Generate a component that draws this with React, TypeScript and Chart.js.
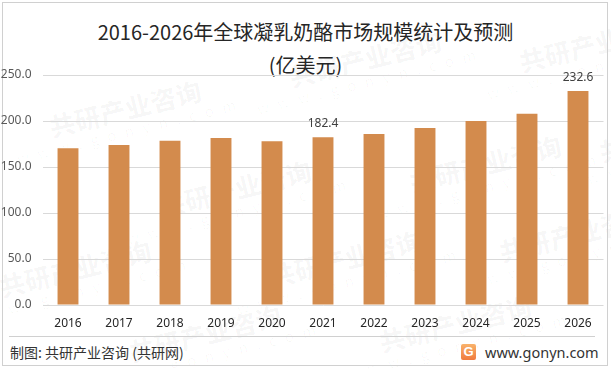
import React, { useEffect, useRef } from "react";
import { Chart, registerables } from "chart.js";

Chart.register(...registerables);

const categories = ["2016", "2017", "2018", "2019", "2020", "2021", "2022", "2023", "2024", "2025", "2026"];
const marketSize = [170.5, 174, 178.5, 181.5, 178, 182.4, 186, 192.5, 200, 208, 232.6];
const labelledIndexes = [5, 10];
const yTicks = [0, 50, 100, 150, 200, 250];
const titleLines = ["2016-2026年全球凝乳奶酪市场规模统计及预测", "(亿美元)"];
const footerLeft = "制图: 共研产业咨询 (共研网)";
const footerRight = "www.gonyn.com";

const BAR_COLOR = "#D38B4D";

const valueLabelPlugin = {
  id: "valueLabels",
  afterDatasetsDraw(chart: any) {
    const ctx = chart.ctx;
    const meta = chart.getDatasetMeta(0);
    ctx.save();
    ctx.font = '12px "Noto Sans", sans-serif';
    ctx.fillStyle = "#404040";
    ctx.textAlign = "center";
    ctx.textBaseline = "middle";
    labelledIndexes.forEach((i) => {
      const bar = meta.data[i];
      if (!bar) return;
      ctx.fillText(marketSize[i].toFixed(1), bar.x, bar.y - 13.5);
    });
    ctx.restore();
  },
};

const watermarks = [
  { x: 10, y: 95 },
  { x: 250, y: 45 },
  { x: 480, y: 30 },
  { x: 120, y: 175 },
  { x: 370, y: 150 },
  { x: 560, y: 120 },
  { x: -40, y: 255 },
  { x: 230, y: 245 },
  { x: 460, y: 220 },
  { x: 90, y: 320 },
  { x: 340, y: 310 },
];

export default function App() {
  const canvasRef = useRef<HTMLCanvasElement | null>(null);

  useEffect(() => {
    document.body.style.margin = "0";
    const canvas = canvasRef.current;
    if (!canvas) return;
    const chart = new Chart(canvas, {
      type: "bar",
      data: {
        labels: categories,
        datasets: [
          {
            data: marketSize,
            backgroundColor: BAR_COLOR,
            borderWidth: 0,
            barPercentage: 0.82,
            categoryPercentage: 0.5,
          },
        ],
      },
      options: {
        animation: false,
        responsive: false,
        maintainAspectRatio: false,
        devicePixelRatio: 1,
        layout: { padding: { top: 75, bottom: 5, left: 0, right: 7.5 } },
        plugins: {
          legend: { display: false },
          title: { display: false },
          tooltip: { enabled: false },
        },
        scales: {
          x: {
            afterFit(scale: any) {
              scale.height = 25;
            },
            grid: { display: false, drawTicks: false },
            border: { display: false },
            ticks: {
              padding: 11,
              color: "#262626",
              font: { family: '"Noto Sans", sans-serif', size: 12 },
              maxRotation: 0,
            },
          },
          y: {
            min: 0,
            max: 250,
            afterFit(scale: any) {
              scale.width = 42.5;
            },
            afterBuildTicks(scale: any) {
              scale.ticks = yTicks.map((v) => ({ value: v }));
            },
            grid: { color: "#d9d9d9", drawTicks: false, lineWidth: 1 },
            border: { display: false },
            ticks: {
              padding: 11,
              color: "#595959",
              font: { family: '"Noto Sans", sans-serif', size: 12 },
              callback: (v: any) => Number(v).toFixed(1),
            },
          },
        },
      },
      plugins: [valueLabelPlugin],
    });
    return () => chart.destroy();
  }, []);

  return (
    <div
      style={{
        position: "relative",
        width: 611,
        height: 369,
        background: "#ffffff",
        overflow: "hidden",
        fontFamily: '"Noto Sans CJK SC", "Noto Sans", sans-serif',
      }}
    >
      {watermarks.map((w, i) => (
        <div
          key={i}
          style={{
            position: "absolute",
            left: w.x,
            top: w.y,
            transform: "rotate(-14deg)",
            color: "rgba(0,0,0,0.03)",
            whiteSpace: "nowrap",
            textAlign: "center",
            lineHeight: 1,
            pointerEvents: "none",
          }}
        >
          <div style={{ fontSize: 26, fontWeight: 900 }}>共研产业咨询</div>
          <div style={{ fontSize: 15, letterSpacing: 9, marginTop: 2 }}>www.gonyn.com</div>
        </div>
      ))}
      <div
        style={{
          position: "absolute",
          left: 2,
          top: 2,
          width: 604,
          height: 362,
          border: "1px solid #d0d0d0",
          boxSizing: "content-box",
        }}
      />
      <div
        style={{
          position: "absolute",
          left: 0,
          top: 15,
          width: 611,
          textAlign: "center",
          fontSize: 20,
          fontWeight: 400,
          color: "#262626",
          lineHeight: "33px",
        }}
      >
        <div>{titleLines[0]}</div>
        <div>{titleLines[1]}</div>
      </div>
      <canvas
        ref={canvasRef}
        width={611}
        height={335}
        style={{ position: "absolute", left: 0, top: 0, width: 611, height: 335 }}
      />
      <div
        style={{
          position: "absolute",
          left: 9,
          top: 336,
          width: 586,
          height: 1,
          background: "#d0d0d0",
        }}
      />
      <div
        style={{
          position: "absolute",
          left: 10,
          top: 342,
          fontSize: 14,
          color: "#333333",
          lineHeight: "20px",
          whiteSpace: "nowrap",
        }}
      >
        {footerLeft}
      </div>
      <div
        style={{
          position: "absolute",
          left: 461,
          top: 344,
          width: 15,
          height: 16,
          borderRadius: 2,
          background: "linear-gradient(180deg, #f9b26b 0%, #f07a3e 100%)",
          color: "#ffffff",
          fontSize: 13,
          fontWeight: 900,
          lineHeight: "16px",
          textAlign: "center",
          fontFamily: '"Liberation Sans", sans-serif',
        }}
      >
        G
      </div>
      <div
        style={{
          position: "absolute",
          left: 485,
          top: 341,
          fontSize: 14.5,
          color: "#333333",
          lineHeight: "22px",
          whiteSpace: "nowrap",
          fontFamily: '"Noto Sans", sans-serif',
        }}
      >
        {footerRight}
      </div>
    </div>
  );
}
